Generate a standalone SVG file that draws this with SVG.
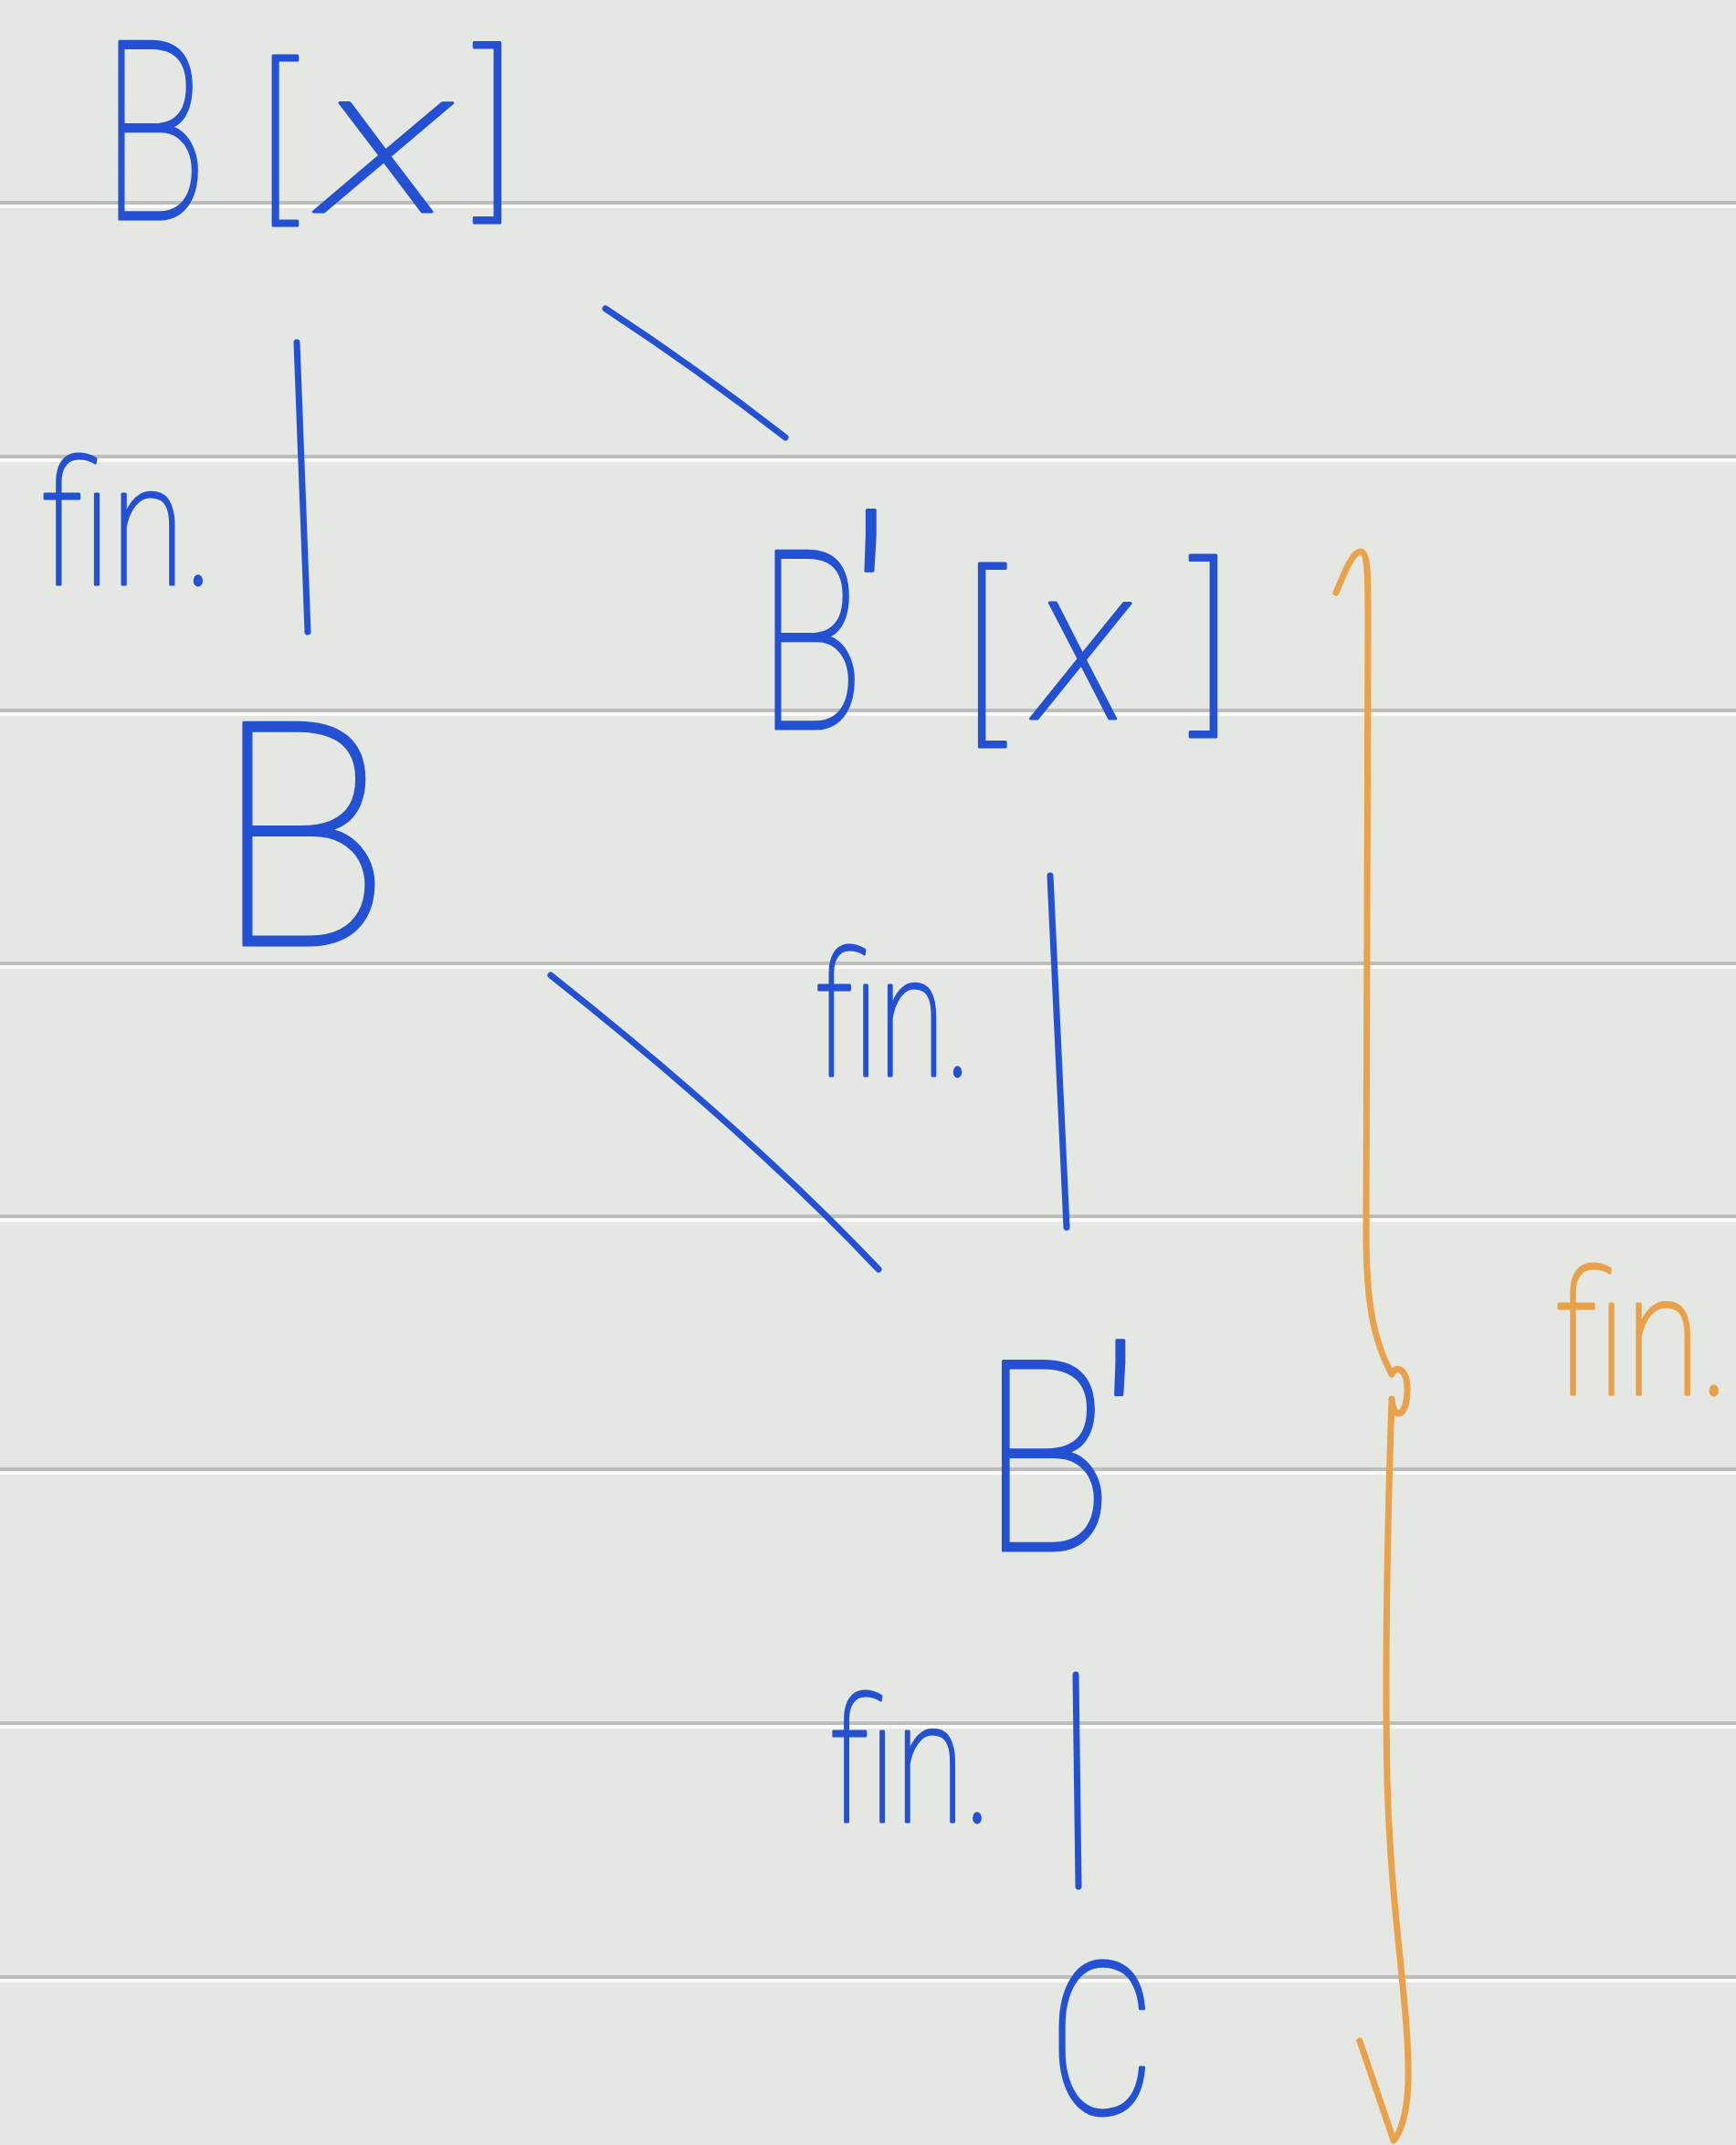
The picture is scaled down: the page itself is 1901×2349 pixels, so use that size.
<svg xmlns="http://www.w3.org/2000/svg" width="1901" height="2349" viewBox="0 0 1901 2349">
<style>
.hw{font-family:Roboto,"Open Sans","Liberation Sans",sans-serif;font-weight:100;fill:#2351d2;stroke:#2351d2;stroke-width:3;stroke-linejoin:round}
.mx{font-style:italic}
.lbl{font-family:Roboto,"Open Sans","Liberation Sans",sans-serif;font-weight:100;fill:#2351d2;stroke:#2351d2;stroke-width:3;stroke-linejoin:round;font-size:188px}
.org{fill:#e9a14a;stroke:#e9a14a}
.rule{fill:#bdbebb}
.ruleh{fill:#fafbf9}
.edge{fill:none;stroke:#2351d2;stroke-width:7;stroke-linecap:round}
.brace{fill:none;stroke:#e9a14a;stroke-width:7;stroke-linecap:round;stroke-linejoin:round}
</style>
<rect x="0" y="0" width="1901" height="2349" fill="#e5e7e3"/>
<g id="ruled-lines">
<rect class="rule" x="0" y="220" width="1901" height="4"/><rect class="ruleh" x="0" y="224" width="1901" height="4"/>
<rect class="rule" x="0" y="498" width="1901" height="4"/><rect class="ruleh" x="0" y="502" width="1901" height="4"/>
<rect class="rule" x="0" y="776" width="1901" height="4"/><rect class="ruleh" x="0" y="780" width="1901" height="4"/>
<rect class="rule" x="0" y="1053" width="1901" height="4"/><rect class="ruleh" x="0" y="1057" width="1901" height="4"/>
<rect class="rule" x="0" y="1330" width="1901" height="4"/><rect class="ruleh" x="0" y="1334" width="1901" height="4"/>
<rect class="rule" x="0" y="1607" width="1901" height="4"/><rect class="ruleh" x="0" y="1611" width="1901" height="4"/>
<rect class="rule" x="0" y="1885" width="1901" height="4"/><rect class="ruleh" x="0" y="1889" width="1901" height="4"/>
<rect class="rule" x="0" y="2163" width="1901" height="4"/><rect class="ruleh" x="0" y="2167" width="1901" height="4"/>
</g>
<g id="connectors">
<path class="edge" d="M325,375 L337,692"/>
<path class="edge" d="M663,338 Q765,405 860,479"/>
<path class="edge" d="M603,1068 Q820,1240 962,1390"/>
<path class="edge" d="M1150,959 L1168,1344"/>
<path class="edge" d="M1178,1834 L1181,2066"/>
<path class="brace" d="M1463,649 C1474,622 1482,604 1490,604 C1498,605 1498,630 1498,680 L1496,1350 C1496,1430 1505,1470 1524,1505 C1528,1494 1542,1498 1541,1524 C1540,1552 1526,1556 1524,1532 C1520,1650 1516,1800 1519,1950 C1523,2100 1544,2200 1542,2280 C1541,2318 1532,2338 1526,2344 L1489,2235"/>
</g>
<g id="node-Bx">
<text class="hw"><tspan x="112" y="240" font-size="274" textLength="114" lengthAdjust="spacingAndGlyphs">B</tspan> <tspan x="282" y="218" font-size="193">[</tspan><tspan class="mx" x="350" y="232" font-size="226" textLength="145" lengthAdjust="spacingAndGlyphs">x</tspan><tspan x="520" y="213" font-size="205">]</tspan></text>
</g>
<g id="node-B">
<text class="hw" font-size="343" x="236" y="1035" textLength="190" lengthAdjust="spacingAndGlyphs">B</text>
</g>
<g id="node-Bpx">
<text class="hw"><tspan x="831" y="798" font-size="274" textLength="114" lengthAdjust="spacingAndGlyphs">B</tspan><tspan x="926" y="806" font-size="330">'</tspan> <tspan x="1054" y="786" font-size="208">[</tspan><tspan class="mx" x="1133" y="787" font-size="240" textLength="105" lengthAdjust="spacingAndGlyphs">x</tspan><tspan x="1304" y="776" font-size="206">]</tspan></text>
</g>
<g id="node-Bp">
<text class="hw"><tspan x="1075" y="1698" font-size="292" textLength="143" lengthAdjust="spacingAndGlyphs">B</tspan><tspan x="1202" y="1689" font-size="295">'</tspan></text>
</g>
<g id="node-C">
<text class="hw" font-size="232" x="1148" y="2315" textLength="117" lengthAdjust="spacingAndGlyphs">C</text>
</g>
<g id="labels">
<text class="lbl" x="44" y="640" textLength="190" lengthAdjust="spacingAndGlyphs">fin.</text>
<text class="lbl" x="892" y="1178" textLength="172" lengthAdjust="spacingAndGlyphs">fin.</text>
<text class="lbl" x="908" y="1995" textLength="178" lengthAdjust="spacingAndGlyphs">fin.</text>
<text class="lbl org" x="1702" y="1527" font-size="205" textLength="192" lengthAdjust="spacingAndGlyphs">fin.</text>
</g>
</svg>
